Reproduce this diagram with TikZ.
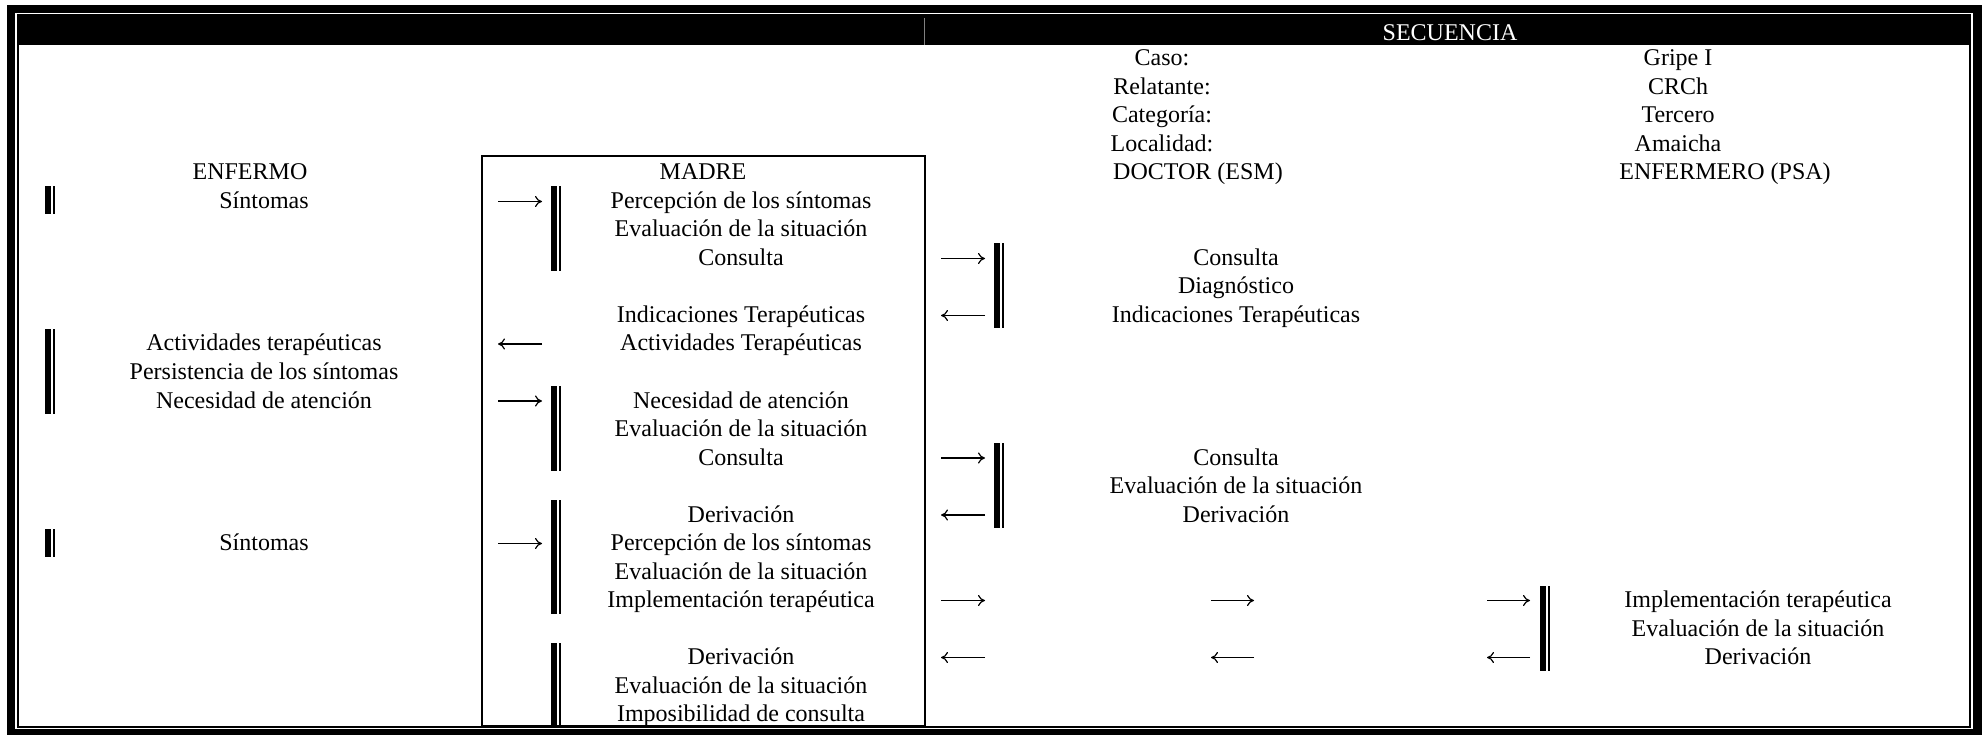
\documentclass[tikz,border=0pt]{standalone}
\usepackage{fontspec}
\setmainfont{Liberation Serif}
\usetikzlibrary{math, arrows.meta}

% barra doble: #1 = x, #2 = fila inicial, #3 = fila final
\newcommand{\barra}[3]{%
	\fill ({#1}, {fila(#2) - 22}) rectangle ({#1 + 6}, {fila(#3) + 6});
	\fill ({#1 + 8}, {fila(#2) - 22}) rectangle ({#1 + 10}, {fila(#3) + 6});
}

\begin{document}
\begin{tikzpicture}[
	% un punto por pixel, eje y hacia abajo
	x = 1pt, y = -1pt,
	% texto de las celdas
	celda/.style = {
		anchor = base,
		inner sep = 0pt,
		font = \fontsize{24}{28}\selectfont
	},
	% flecha entre actores
	flecha/.style = {
		line width = 1.2pt,
		arrows = -{To[length = 7pt, width = 11pt]}
	},
]

	\tikzmath{
		function fila(\r) { return 66 + 28.5*\r; }; % linea base de cada fila
		\yf = 7; % altura de las flechas sobre la base
	}

	\useasboundingbox (0,0) rectangle (1982,735);

	% marco doble y cabecera
	\fill (7,5) rectangle (1982,735);
	\fill[white] (15,13.5) rectangle (1973.3,729.3);
	\fill (16.5,14.5) rectangle (1970.7,728);
	\fill[white] (19,45) rectangle (1968.7,726);
	\draw[gray, line width = 0.7pt] (924,18) -- (924,45);
	\node[celda, text = white] (secuencia) at (1450,41) {SECUENCIA};

	% datos del caso
	\node[celda] (caso)       at (1162, {fila(0)}) {Caso:};
	\node[celda] (relatante)  at (1162, {fila(1)}) {Relatante:};
	\node[celda] (categoria)  at (1162, {fila(2)}) {Categoría:};
	\node[celda] (localidad)  at (1162, {fila(3)}) {Localidad:};
	\node[celda] (gripe)      at (1678, {fila(0)}) {Gripe I};
	\node[celda] (crch)       at (1678, {fila(1)}) {CRCh};
	\node[celda] (tercero)    at (1678, {fila(2)}) {Tercero};
	\node[celda] (amaicha)    at (1678, {fila(3)}) {Amaicha};

	% actores
	\node[celda] (enfermo)    at (250, {fila(4)})  {ENFERMO};
	\node[celda] (madre)      at (703, {fila(4)})  {MADRE};
	\node[celda] (doctor)     at (1198, {fila(4)}) {DOCTOR (ESM)};
	\node[celda] (enfermero)  at (1725, {fila(4)}) {ENFERMERO (PSA)};

	% caja de la madre
	\draw[line width = 1.4pt] (482,156) rectangle (925,726);

	% columna del enfermo
	\node[celda] (e1) at (264, {fila(5)})  {Síntomas};
	\node[celda] (e2) at (264, {fila(10)}) {Actividades terapéuticas};
	\node[celda] (e3) at (264, {fila(11)}) {Persistencia de los síntomas};
	\node[celda] (e4) at (264, {fila(12)}) {Necesidad de atención};
	\node[celda] (e5) at (264, {fila(17)}) {Síntomas};

	% columna de la madre
	\node[celda] (m1)  at (741, {fila(5)})  {Percepción de los síntomas};
	\node[celda] (m2)  at (741, {fila(6)})  {Evaluación de la situación};
	\node[celda] (m3)  at (741, {fila(7)})  {Consulta};
	\node[celda] (m4)  at (741, {fila(9)})  {Indicaciones Terapéuticas};
	\node[celda] (m5)  at (741, {fila(10)}) {Actividades Terapéuticas};
	\node[celda] (m6)  at (741, {fila(12)}) {Necesidad de atención};
	\node[celda] (m7)  at (741, {fila(13)}) {Evaluación de la situación};
	\node[celda] (m8)  at (741, {fila(14)}) {Consulta};
	\node[celda] (m9)  at (741, {fila(16)}) {Derivación};
	\node[celda] (m10) at (741, {fila(17)}) {Percepción de los síntomas};
	\node[celda] (m11) at (741, {fila(18)}) {Evaluación de la situación};
	\node[celda] (m12) at (741, {fila(19)}) {Implementación terapéutica};
	\node[celda] (m13) at (741, {fila(21)}) {Derivación};
	\node[celda] (m14) at (741, {fila(22)}) {Evaluación de la situación};
	\node[celda] (m15) at (741, {fila(23)}) {Imposibilidad de consulta};

	% columna del doctor
	\node[celda] (d1) at (1236, {fila(7)})  {Consulta};
	\node[celda] (d2) at (1236, {fila(8)})  {Diagnóstico};
	\node[celda] (d3) at (1236, {fila(9)})  {Indicaciones Terapéuticas};
	\node[celda] (d4) at (1236, {fila(14)}) {Consulta};
	\node[celda] (d5) at (1236, {fila(15)}) {Evaluación de la situación};
	\node[celda] (d6) at (1236, {fila(16)}) {Derivación};

	% columna del enfermero
	\node[celda] (p1) at (1758, {fila(19)}) {Implementación terapéutica};
	\node[celda] (p2) at (1758, {fila(20)}) {Evaluación de la situación};
	\node[celda] (p3) at (1758, {fila(21)}) {Derivación};

	% barras de actividad
	\barra{45}{5}{5}
	\barra{45}{10}{12}
	\barra{45}{17}{17}
	\barra{551}{5}{7}
	\barra{551}{12}{14}
	\barra{551}{16}{19}
	\barra{551}{21}{23}
	\barra{994}{7}{9}
	\barra{994}{14}{16}
	\barra{1540}{19}{21}

	% flechas hacia la madre y de vuelta
	\draw[flecha] (498, {fila(5) - \yf})  -- (542, {fila(5) - \yf});
	\draw[flecha] (542, {fila(10) - \yf}) -- (498, {fila(10) - \yf});
	\draw[flecha] (498, {fila(12) - \yf}) -- (542, {fila(12) - \yf});
	\draw[flecha] (498, {fila(17) - \yf}) -- (542, {fila(17) - \yf});

	% flechas hacia el doctor
	\draw[flecha] (941, {fila(7) - \yf})  -- (985, {fila(7) - \yf});
	\draw[flecha] (985, {fila(9) - \yf})  -- (941, {fila(9) - \yf});
	\draw[flecha] (941, {fila(14) - \yf}) -- (985, {fila(14) - \yf});
	\draw[flecha] (985, {fila(16) - \yf}) -- (941, {fila(16) - \yf});

	% flechas hacia el enfermero
	\draw[flecha] (941, {fila(19) - \yf})  -- (985, {fila(19) - \yf});
	\draw[flecha] (1211, {fila(19) - \yf}) -- (1254, {fila(19) - \yf});
	\draw[flecha] (1487, {fila(19) - \yf}) -- (1530, {fila(19) - \yf});
	\draw[flecha] (985, {fila(21) - \yf})  -- (941, {fila(21) - \yf});
	\draw[flecha] (1254, {fila(21) - \yf}) -- (1211, {fila(21) - \yf});
	\draw[flecha] (1530, {fila(21) - \yf}) -- (1487, {fila(21) - \yf});

\end{tikzpicture}
\end{document}
